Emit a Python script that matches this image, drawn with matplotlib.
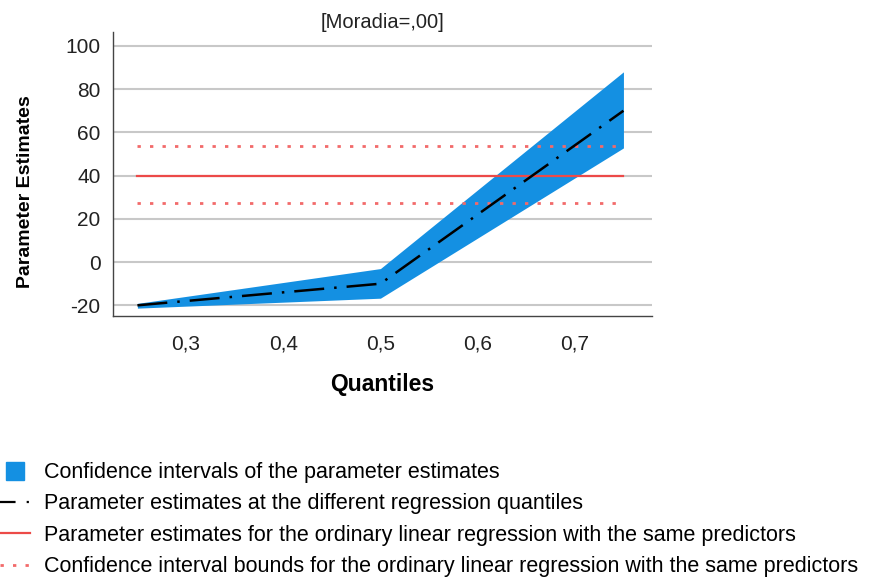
import matplotlib
matplotlib.use("Agg")
from matplotlib import pyplot as plt
from matplotlib.lines import Line2D

plt.rcParams['font.family'] = ['Liberation Sans', 'DejaVu Sans']
plt.rcParams['axes.unicode_minus'] = False

# quantile regression results
quantiles = [0.25, 0.5, 0.75]
estimates = [-20, -10, 70]
ci_lower = [-21.3, -16.7, 52.8]
ci_upper = [-19.1, -3.0, 88.0]

# ordinary linear regression
ols_estimate = 40
ols_lower = 27.3
ols_upper = 53.7

x_ticks = [0.3, 0.4, 0.5, 0.6, 0.7]
x_tick_labels = ["0,3", "0,4", "0,5", "0,6", "0,7"]
y_ticks = [-20, 0, 20, 40, 60, 80, 100]

blue = "#1490e2"
red = "#ec4a48"
pink = "#f26a6a"
dotted = (0, (1.2, 3.3))

fig = plt.figure(figsize=(8.7, 5.79), dpi=100)
ax = fig.add_axes([0.130, 0.454, 0.619, 0.491])

for y in y_ticks:
    ax.axhline(y, color="#c8c8c8", linewidth=1.5, zorder=0)

ax.fill_between(quantiles, ci_lower, ci_upper, color=blue, linewidth=0, zorder=2)
ax.plot(quantiles, estimates, color="black", linewidth=1.8, dashes=(12, 4, 1, 4), zorder=4)
ax.plot([quantiles[0], quantiles[-1]], [ols_estimate, ols_estimate], color=red,
        linewidth=1.6, zorder=3)
ax.plot([quantiles[0], quantiles[-1]], [ols_lower, ols_lower], color=pink,
        linewidth=2, linestyle=dotted, zorder=3)
ax.plot([quantiles[0], quantiles[-1]], [ols_upper, ols_upper], color=pink,
        linewidth=2, linestyle=dotted, zorder=3)

ax.set_xlim(0.225, 0.779)
ax.set_ylim(-25, 106.5)
ax.set_xticks(x_ticks)
ax.set_xticklabels(x_tick_labels)
ax.set_yticks(y_ticks)
ax.tick_params(length=0, labelsize=15, colors="#222222")
ax.tick_params(axis="x", pad=13)
ax.tick_params(axis="y", pad=9)
for side in ["top", "right"]:
    ax.spines[side].set_visible(False)
for side in ["left", "bottom"]:
    ax.spines[side].set_color("#444444")
    ax.spines[side].set_linewidth(1)

ax.set_title("[Moradia=,00]", fontsize=14.5, color="#222222", pad=3)
ax.set_xlabel("Quantiles", fontsize=16.5, fontweight="bold", labelpad=14)
ax.set_ylabel("Parameter Estimates", fontsize=14, fontweight="bold", labelpad=22.5, y=0.437)

handles = [
    Line2D([], [], marker="s", markersize=13, color=blue, linestyle="none"),
    Line2D([], [], color="black", linewidth=1.6, dashes=(7, 5, 1, 4)),
    Line2D([], [], color=red, linewidth=1.6),
    Line2D([], [], color=pink, linewidth=2, linestyle=dotted),
]
labels = [
    "Confidence intervals of the parameter estimates",
    "Parameter estimates at the different regression quantiles",
    "Parameter estimates for the ordinary linear regression with the same predictors",
    "Confidence interval bounds for the ordinary linear regression with the same predictors",
]
fig.legend(handles, labels, loc="upper left", bbox_to_anchor=(0.0, 0.202),
           frameon=False, fontsize=15.5, handlelength=1.4, handletextpad=0.65,
           labelspacing=0.48, borderaxespad=0, borderpad=0)

fig.savefig("out.png", dpi=100)
